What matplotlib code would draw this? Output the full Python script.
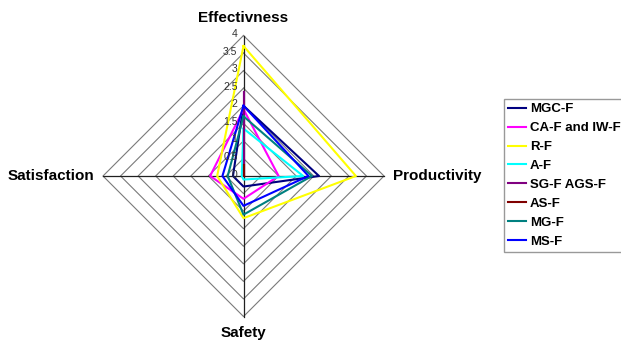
import numpy as np
import matplotlib
matplotlib.use("Agg")
import matplotlib.pyplot as plt
import matplotlib.transforms as mtransforms

plt.rcParams["font.family"] = ["Liberation Sans", "DejaVu Sans"]

# axes, clockwise from top
categories = ["Effectivness", "Productivity", "Safety", "Satisfaction"]
levels = [0, 0.5, 1, 1.5, 2, 2.5, 3, 3.5, 4]
level_labels = ["0", "0.5", "1", "1.5", "2", "2.5", "3", "3.5", "4"]

series_names = ["MGC-F", "CA-F and IW-F", "R-F", "A-F", "SG-F AGS-F", "AS-F", "MG-F", "MS-F"]
series_colors = ["#000080", "#FF00FF", "#FFFF00", "#00FFFF", "#800080", "#800000", "#008080", "#0000FF"]

mgc_f = [2.0, 2.15, 0.3, 0.3]
ca_iw_f = [1.9, 1.0, 0.65, 0.95]
r_f = [3.7, 3.2, 1.2, 0.75]
a_f = [1.35, 1.7, 0.1, 0.05]
sg_ags_f = [2.4, 0.0, 0.0, 0.0]
as_f = [0.3, 0.0, 0.0, 0.0]
mg_f = [1.7, 1.95, 1.1, 0.45]
ms_f = [2.0, 1.85, 0.85, 0.6]
series_values = [mgc_f, ca_iw_f, r_f, a_f, sg_ags_f, as_f, mg_f, ms_f]

W, H = 621, 345
fig = plt.figure(figsize=(W / 100, H / 100), dpi=100)

# polar axes placed so the centre sits at (243.5, 176) px, radius 140.5 px
cx, cy, rad = 243.5, 176.0, 140.5
ax = fig.add_axes([(cx - rad) / W, 1 - (cy + rad) / H, 2 * rad / W, 2 * rad / H], projection="polar")
ax.set_theta_offset(np.pi / 2)
ax.set_theta_direction(-1)
ax.set_ylim(0, 4)
ax.grid(False)
ax.set_xticks([])
ax.set_yticks([])
ax.spines["polar"].set_visible(False)
ax.patch.set_alpha(0)

angles = np.arange(len(categories)) * 2 * np.pi / len(categories)
closed = np.append(angles, angles[0])

# diamond rings + spokes
for lvl in levels[1:]:
    ax.plot(closed, [lvl] * len(closed), color="#7a7a7a", lw=0.8, clip_on=False, zorder=1)
for a in angles:
    ax.plot([a, a], [0, 4], color="#202020", lw=0.9, clip_on=False, zorder=2)

lines = []
for name, color, vals in zip(series_names, series_colors, series_values):
    v = np.append(vals, vals[0])
    ln, = ax.plot(closed, v, color=color, lw=1.5, label=name, clip_on=False, zorder=3)
    lines.append(ln)

# value labels along the top spoke
lab_tr = mtransforms.offset_copy(ax.transData, fig=fig, x=-6, y=1.5, units="dots")
for lvl, txt in zip(levels, level_labels):
    ax.text(0, lvl, txt, transform=lab_tr, ha="right", va="center", fontsize=7.5, color="#333333")

# category labels
cat_offsets = [(0, 18, "center", "center"), (9, 0, "left", "center"),
               (0, -17, "center", "center"), (-9, 0, "right", "center")]
for a, name, (dx, dy, ha, va) in zip(angles, categories, cat_offsets):
    tr = mtransforms.offset_copy(ax.transData, fig=fig, x=dx, y=dy, units="dots")
    ax.text(a, 4, name, transform=tr, ha=ha, va=va, fontsize=11, fontweight="bold")

leg = fig.legend(handles=lines, loc="upper left", bbox_to_anchor=(504 / W, 1 - 99 / H),
                 frameon=True, fancybox=False, edgecolor="#808080",
                 prop={"size": 9.5, "weight": "bold"}, handlelength=1.4, handletextpad=0.25,
                 labelspacing=0.51, borderpad=0.3, borderaxespad=0)
leg.get_frame().set_linewidth(1.0)

fig.savefig("out.png", dpi=100)
